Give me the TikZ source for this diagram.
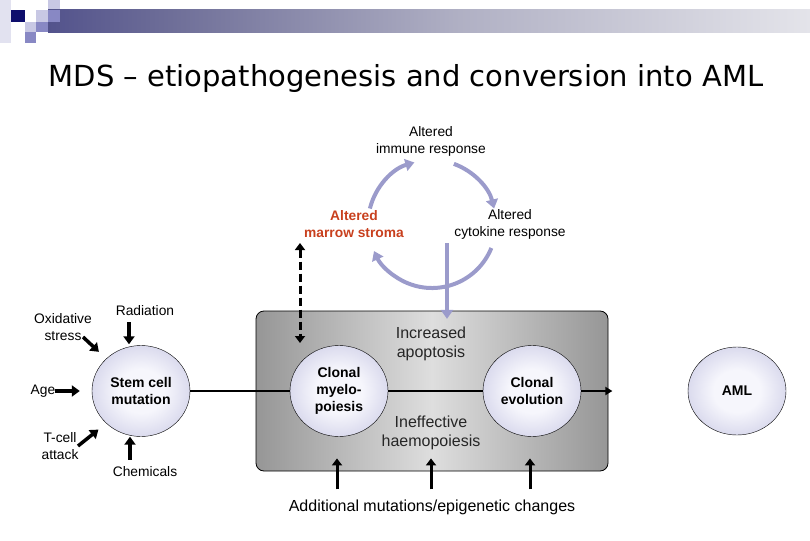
\documentclass[tikz,border=0pt]{standalone}
\usepackage{fontspec}
\setmainfont{Liberation Sans}
\newfontfamily\titlefont{DejaVu Sans}
\usepackage{xcolor}
\usepackage{tikz}
\usetikzlibrary{shapes,arrows.meta,positioning,calc}

\definecolor{navy}{RGB}{14,14,108}
\definecolor{lavdark}{RGB}{136,136,196}
\definecolor{lavlight}{RGB}{200,200,228}
\definecolor{lavpale}{RGB}{226,226,240}
\definecolor{lav}{RGB}{155,155,203}
\definecolor{stroma}{RGB}{200,64,30}
\definecolor{bubIn}{RGB}{246,246,252}
\definecolor{bubOut}{RGB}{166,166,210}
\definecolor{panelEdge}{RGB}{78,78,78}
\definecolor{panelMid}{RGB}{222,222,222}
\definecolor{bannerA}{RGB}{32,32,118}
\definecolor{bannerB}{RGB}{110,110,152}
\definecolor{bannerC}{RGB}{176,176,196}
\definecolor{bannerD}{RGB}{228,228,234}

\pgfdeclarehorizontalshading{banner}{100bp}{color(0bp)=(navy); color(10bp)=(bannerA); color(33bp)=(bannerB); color(52bp)=(bannerC); color(75bp)=(bannerD); color(100bp)=(white)}
\pgfdeclarehorizontalshading{panel}{100bp}{color(0bp)=(panelEdge); color(50bp)=(panelMid); color(100bp)=(panelEdge)}
\pgfdeclareradialshading{bubble}{\pgfpoint{0bp}{0bp}}{color(0bp)=(bubIn); color(12bp)=(bubIn); color(50bp)=(bubOut)}

\begin{document}
\begin{tikzpicture}[
    x=1pt, y=-1pt,
    lbl/.style={align=center, inner sep=0pt, font=\fontsize{13.8}{17}\selectfont},
    note/.style={align=center, inner sep=0pt, text=black!85, font=\fontsize{16}{19}\selectfont},
    bub/.style={ellipse, draw, shading=bubble, minimum width=98pt, minimum height=91pt,
        align=center, inner sep=0pt, font=\bfseries\fontsize{14}{17}\selectfont},
    fat/.style={line width=3.5pt, -{Triangle[length=8pt,width=11pt]}},
    slim/.style={line width=3pt, -{Triangle[length=7pt,width=10pt]}},
    loop/.style={draw=lav, line width=4pt, -{Triangle[length=9pt,width=12pt]}}
]
\useasboundingbox (0,0) rectangle (810,540);

% header
\fill[lavpale] (0,0) rectangle (11,43);
\fill[navy] (11,10) rectangle (25,22);
\fill[lavlight] (36,10) rectangle (48,22);
\fill[lavlight] (48,0) rectangle (60,10);
\fill[lavlight] (25,22) rectangle (36,32);
\fill[lavdark] (36,22) rectangle (48,32);
\fill[lavdark] (25,32) rectangle (36,43);
\shade[shading=banner] (48,10) rectangle (810,33);
\fill[lavdark] (48,10) rectangle (60,22);
\node[font=\titlefont\fontsize{29}{34}\selectfont] (title) at (406,79) {MDS – etiopathogenesis and conversion into AML};

% immune loop
\coordinate (loopc) at (432,224);
\node[lbl] (immune) at (431,141) {Altered\\immune response};
\node[lbl, text=stroma, font=\bfseries\fontsize{13.8}{17}\selectfont] (stroma) at (354,224) {Altered\\marrow stroma};
\node[lbl] (cyto) at (510,224) {Altered\\cytokine response};
\draw[loop] (loopc) ++(166:64pt) arc[start angle=166, end angle=106, radius=64pt];
\draw[loop] (loopc) ++(70:64pt) arc[start angle=70, end angle=14, radius=64pt];
\draw[loop] (loopc) ++(-22:64pt) arc[start angle=-22, end angle=-155, radius=64pt];

% panel
\node[draw, line width=0.8pt, rounded corners=8pt, shading=panel,
      minimum width=352pt, minimum height=160pt] (box) at (432,391) {};
\node[note] (apop) at (431,344) {Increased\\apoptosis};
\node[note] (ineff) at (431,433) {Ineffective\\haemopoiesis};
\node[bub] (myelo) at (339,391) {Clonal\\myelo-\\poiesis};
\node[bub] (evol) at (532,391) {Clonal\\evolution};

\coordinate (cytd) at (447,243);
\draw[draw=lav, line width=4pt, -{Triangle[length=9pt,width=12pt]}] (cytd) -- ([yshift=8pt]apop.north -| cytd);
\coordinate (dasht) at (300,243);
\coordinate (dashb) at (300,343);
\draw[line width=3pt, dash pattern=on 8pt off 4pt, {Triangle[length=7pt,width=10pt]}-{Triangle[length=7pt,width=10pt]}] (dasht) -- (dashb);

% stem cell and causes
\node[bub] (stem) at (141,391) {Stem cell\\mutation};
\node[lbl] (oxi) at (63,327) {Oxidative\\stress};
\node[lbl] (rad) at (145,311) {Radiation};
\node[lbl] (age) at (43,391) {Age};
\node[lbl] (tcell) at (60,446) {T-cell\\attack};
\node[lbl] (chem) at (145,472) {Chemicals};
\node[bub, minimum height=88pt] (aml) at (737,391) {AML};

\coordinate (oxit) at (83,337);
\coordinate (tcellt) at (78,446);
\draw[fat, shorten >=10pt] (oxit) -- (stem.north west);
\draw[fat, shorten >=10pt] (tcellt) -- (stem.south west);
\draw[fat] (age.east) -- ([xshift=-12pt]stem.west);
\draw[fat] ([xshift=-16pt,yshift=-6pt]rad.south) -- ([xshift=-12pt,yshift=1pt]stem.north);
\draw[fat] ([xshift=-15pt,yshift=7pt]chem.north) -- ([xshift=-11pt]stem.south);

% clonal line
\draw[line width=2pt] (stem.east) -- (myelo.west);
\draw[line width=2pt] (myelo.east) -- (evol.west);
\draw[line width=2pt, -{Triangle[length=7pt,width=8pt]}] (evol.east) -- ([xshift=4pt]box.east |- evol.east);

% additional mutations
\node[note, text=black] (add) at (432,507) {Additional mutations/epigenetic changes};
\foreach \dx in {-95,-1,98}
  \draw[slim] ([xshift=\dx pt,yshift=10pt]add.north) -- ([xshift=\dx pt,yshift=13pt]box.south);
\end{tikzpicture}
\end{document}
